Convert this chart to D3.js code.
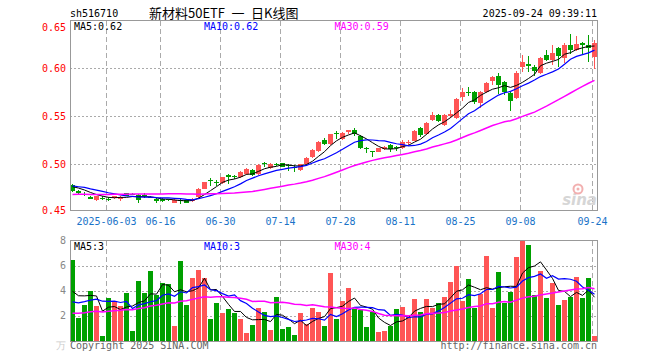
<!DOCTYPE html>
<html><head><meta charset="utf-8">
<script src="https://cdn.jsdelivr.net/npm/d3@7"></script>
<style>body{margin:0;background:#fff}svg{display:block}</style>
</head><body><svg id="c" width="660" height="360"></svg>
<script>
// ---- data ----
const holidays = ["2025-06-02"];
const firstDay = "2025-05-23", lastDay = "2025-09-24";
const open  = [0.4781,0.4725,0.4695,0.4663,0.4628,0.4650,0.4640,0.4645,0.4635,0.4698,0.4692,0.4684,0.4680,0.4660,0.4638,0.4638,0.4635,0.4600,0.4625,0.4628,0.4620,0.4663,0.4746,0.4836,0.4818,0.4802,0.4888,0.4880,0.4871,0.4899,0.4941,0.4900,0.5017,0.4958,0.5003,0.5010,0.4995,0.4975,0.4942,0.5003,0.5080,0.5138,0.5251,0.5207,0.5326,0.5260,0.5336,0.5357,0.5295,0.5166,0.5138,0.5132,0.5160,0.5201,0.5184,0.5166,0.5225,0.5246,0.5375,0.5316,0.5462,0.5513,0.5405,0.5502,0.5479,0.5705,0.5757,0.5757,0.5642,0.5757,0.5871,0.5920,0.5861,0.5746,0.5687,0.6017,0.6041,0.6017,0.5947,0.6142,0.6086,0.6211,0.6104,0.6246,0.6190,0.6260,0.6246,0.6114];
const high  = [0.4791,0.4735,0.4710,0.4668,0.4672,0.4665,0.4655,0.4675,0.4668,0.4705,0.4702,0.4690,0.4700,0.4668,0.4650,0.4645,0.4640,0.4635,0.4640,0.4635,0.4650,0.4752,0.4818,0.4860,0.4835,0.4870,0.4895,0.4890,0.4930,0.4962,0.4950,0.5003,0.5024,0.5010,0.5013,0.5017,0.5003,0.4993,0.5003,0.5076,0.5156,0.5240,0.5270,0.5320,0.5343,0.5336,0.5360,0.5378,0.5302,0.5180,0.5142,0.5170,0.5195,0.5208,0.5190,0.5250,0.5250,0.5355,0.5385,0.5440,0.5545,0.5520,0.5520,0.5566,0.5690,0.5792,0.5809,0.5760,0.5765,0.5855,0.5920,0.5947,0.5870,0.5760,0.5975,0.6138,0.6131,0.6030,0.6118,0.6190,0.6243,0.6220,0.6260,0.6357,0.6336,0.6274,0.6343,0.6295];
const low   = [0.4715,0.4690,0.4665,0.4635,0.4615,0.4625,0.4615,0.4640,0.4615,0.4665,0.4680,0.4600,0.4650,0.4645,0.4600,0.4605,0.4615,0.4595,0.4590,0.4595,0.4610,0.4650,0.4740,0.4772,0.4770,0.4795,0.4795,0.4850,0.4862,0.4890,0.4880,0.4890,0.4976,0.4951,0.4986,0.4969,0.4934,0.4924,0.4930,0.4996,0.5066,0.5128,0.5201,0.5205,0.5263,0.5254,0.5316,0.5290,0.5155,0.5115,0.5080,0.5125,0.5150,0.5128,0.5135,0.5160,0.5201,0.5240,0.5280,0.5305,0.5450,0.5440,0.5395,0.5479,0.5470,0.5660,0.5711,0.5630,0.5590,0.5745,0.5825,0.5732,0.5722,0.5559,0.5680,0.5965,0.5965,0.5920,0.5940,0.6075,0.6034,0.6017,0.6052,0.6149,0.6180,0.6149,0.6069,0.5989];
const close = [0.4725,0.4698,0.4688,0.4642,0.4670,0.4645,0.4632,0.4670,0.4660,0.4670,0.4688,0.4628,0.4670,0.4650,0.4620,0.4620,0.4625,0.4628,0.4620,0.4600,0.4642,0.4746,0.4815,0.4826,0.4808,0.4864,0.4864,0.4872,0.4923,0.4951,0.4888,0.4996,0.5010,0.5003,0.4996,0.4975,0.4980,0.4965,0.4998,0.5070,0.5147,0.5234,0.5207,0.5316,0.5318,0.5330,0.5357,0.5316,0.5166,0.5156,0.5132,0.5166,0.5184,0.5156,0.5180,0.5236,0.5236,0.5350,0.5305,0.5434,0.5513,0.5451,0.5513,0.5521,0.5680,0.5757,0.5750,0.5645,0.5757,0.5850,0.5909,0.5826,0.5757,0.5663,0.5954,0.6069,0.6025,0.5975,0.6111,0.6086,0.6163,0.6128,0.6246,0.6190,0.6253,0.6246,0.6211,0.6260];
const volume = [6.47,1.8,2.85,4.0,2.77,0.36,3.41,3.1,2.77,3.81,0.76,4.78,3.81,5.58,3.68,4.62,4.54,1.16,6.39,2.85,5.05,5.66,5.05,1.73,3.01,2.2,2.53,2.2,1.73,0.6,1.25,2.61,2.29,0.84,3.49,0.92,1.08,0.44,2.2,1.33,2.61,2.29,1.16,5.42,1.73,3.17,4.2,2.53,2.45,1.08,2.32,0.68,0.76,1.19,2.53,2.69,2.05,3.33,2.29,3.33,2.6,3.0,3.5,4.7,5.98,3.17,4.94,2.6,3.7,6.79,2.6,5.5,3.0,3.9,6.7,7.99,7.67,3.65,5.58,3.41,4.62,2.85,3.25,3.5,5.1,3.41,5.0,0.36];
// sessions before the visible window (estimated from the left end of the average lines)
const prevClose = [0.466,0.468,0.470,0.467,0.465,0.463,0.464,0.462,0.465,0.463,0.462,0.466,0.464,0.463,0.461,0.462,0.463,0.461,0.464,0.466,0.478,0.476,0.479,0.480,0.478,0.477,0.479,0.477,0.478];
const prevVolume = [1.5,2.0,1.2,1.8,2.2,1.4,1.9,1.6,2.1,1.3,1.7,2.0,1.5,1.8,1.6,1.9,1.4,2.2,1.7,1.8,2.5,1.9,2.8,2.0,2.0,3.6,2.9,3.8,3.0];
const tickDates = ["2025-06-03","2025-06-16","2025-06-30","2025-07-14","2025-07-28","2025-08-11","2025-08-25","2025-09-08","2025-09-24"];
const tickText  = ["2025-06-03","06-16","06-30","07-14","07-28","08-11","08-25","09-08","09-24"];
const priceTicks = [0.45,0.50,0.55,0.60,0.65];
const volTicks = [2,4,6,8];
const maPeriods = [5,10,30];
const maColors = ["#000000","#0000ff","#ff00ff"];
const code = "sh516710", titleParts = ["新材料50ETF","一","日K线图"], stamp = "2025-09-24 09:39:11";

// ---- build ----
const fmtDay = d3.utcFormat("%Y-%m-%d");
const dates = d3.utcDays(new Date(firstDay+"T00:00Z"), d3.utcDay.offset(new Date(lastDay+"T00:00Z"),1))
  .filter(d => d.getUTCDay()%6!==0 && !holidays.includes(fmtDay(d))).map(fmtDay);

function movingAvg(prev, vals, n){
  const all = prev.concat(vals), off = prev.length;
  return vals.map((v,i)=> d3.mean(all.slice(off+i-n+1, off+i+1)));
}

const svg = d3.select("#c");
const FONT = "'DejaVu Sans Mono', monospace";
const L=70, R=598;
const x = d3.scaleBand().domain(dates).range([L,R]);
const bw = x.bandwidth()-1;
const cx = d => x(d)+bw/2;
const y = d3.scaleLinear().domain([0.45,0.65]).range([212.3,20.3]);
const yv = d3.scaleLinear().domain([0,8]).range([340.5,240.9]);
const P = {top:20.5, bottom:210.5}, V = {top:240.5, bottom:341};
const UP="#ff5555", DN="#00a000", GRID="#aaaaaa";

// grids
function panelGrid(top,bottom,hvals,scale){
  const g = svg.append("g").attr("shape-rendering","crispEdges");
  g.selectAll("line.h").data(hvals).join("line")
    .attr("x1",L).attr("x2",R-1).attr("y1",d=>Math.round(scale(d))+0.5).attr("y2",d=>Math.round(scale(d))+0.5)
    .attr("stroke",GRID).attr("stroke-dasharray","2,2");
  g.selectAll("line.v").data(tickDates).join("line")
    .attr("x1",d=>x(d)+0.5).attr("x2",d=>x(d)+0.5).attr("y1",top).attr("y2",bottom)
    .attr("stroke",GRID).attr("stroke-dasharray","5,3");
}
panelGrid(P.top,P.bottom,[0.50,0.55,0.60],y);
panelGrid(V.top,V.bottom,[2,4,6],yv);

// watermark
const wm = svg.append("g");
wm.append("text").attr("x",597).attr("y",205).attr("text-anchor","end")
  .attr("font-family","'DejaVu Sans', sans-serif").attr("font-style","italic").attr("font-weight","bold")
  .attr("font-size",15).attr("fill","#d6d6d6").text("sina");
wm.append("circle").attr("cx",578).attr("cy",189).attr("r",4.5).attr("fill","none").attr("stroke","#f2b0b0").attr("stroke-width",2);
wm.append("circle").attr("cx",578).attr("cy",189).attr("r",1.5).attr("fill","#f2b0b0");

// candles
const cg = svg.append("g").attr("shape-rendering","crispEdges");
const idx = d3.range(dates.length);
cg.selectAll("line").data(idx).join("line")
  .attr("x1",i=>Math.floor(cx(dates[i]))+0.5).attr("x2",i=>Math.floor(cx(dates[i]))+0.5)
  .attr("y1",i=>y(high[i])).attr("y2",i=>y(low[i]))
  .attr("stroke",i=>close[i]>=open[i]?UP:DN);
cg.selectAll("rect").data(idx).join("rect")
  .attr("x",i=>x(dates[i])).attr("width",bw)
  .attr("y",i=>y(Math.max(open[i],close[i])))
  .attr("height",i=>Math.max(1,Math.abs(y(open[i])-y(close[i]))))
  .attr("fill",i=>close[i]>=open[i]?UP:DN);

// volume bars
svg.append("g").attr("shape-rendering","crispEdges").selectAll("rect").data(idx).join("rect")
  .attr("x",i=>x(dates[i])).attr("width",bw)
  .attr("y",i=>yv(volume[i])).attr("height",i=>yv(0)-yv(volume[i]))
  .attr("fill",i=>close[i]>=open[i]?UP:DN);

// moving averages
const priceMA = maPeriods.map(n=>movingAvg(prevClose,close,n));
const volMA = maPeriods.map(n=>movingAvg(prevVolume,volume,n));
const widths=[1,1.2,1.5];
priceMA.forEach((m,k)=>{
  svg.append("path").attr("fill","none").attr("stroke",maColors[k]).attr("stroke-width",widths[k])
    .attr("d",d3.line().x((v,i)=>cx(dates[i])).y(v=>y(v))(m));
});
volMA.forEach((m,k)=>{
  svg.append("path").attr("fill","none").attr("stroke",maColors[k]).attr("stroke-width",widths[k])
    .attr("d",d3.line().x((v,i)=>cx(dates[i])).y(v=>yv(v))(m));
});

// frames
const fr = svg.append("g").attr("shape-rendering","crispEdges").attr("fill","none").attr("stroke","#999");
fr.append("rect").attr("x",L+0.5).attr("y",P.top).attr("width",R-L-1).attr("height",P.bottom-P.top);
fr.append("rect").attr("x",L+0.5).attr("y",V.top).attr("width",R-L-1).attr("height",V.bottom-V.top);

// texts
const T = (xx,yy,txt,fill,anchor="start",size=10,fam=FONT)=>svg.append("text").attr("x",xx).attr("y",yy)
  .attr("fill",fill).attr("text-anchor",anchor).attr("font-family",fam).attr("font-size",size).text(txt);
T(70,17,code,"#000");
const CJK="'Noto Sans CJK SC', sans-serif";
T(149,18,titleParts[0],"#000","start",13,CJK);
T(238,18,titleParts[1],"#000","middle",13,CJK);
T(251,18,titleParts[2],"#000","start",13,CJK);
T(597,17,stamp,"#000","end");
priceTicks.forEach(v=>{
  const yy = Math.min(Math.max(y(v),27),210);
  T(66,yy+3.5,d3.format(".2f")(v),"#ff0000","end");
});
volTicks.forEach(v=>T(66,yv(v)+3.5,String(v),"#888","end"));
T(66,349,"万","#cccccc","end");
tickDates.forEach((d,k)=>T(x(d)+0.5,225,tickText[k],"#1a73c8","middle"));
const maX=[74,204,334.5];
maPeriods.forEach((n,k)=>{
  T(maX[k],30,`MA${n}:${d3.format(".2f")(priceMA[k][priceMA[k].length-1])}`,maColors[k]);
  T(maX[k],250,`MA${n}:${Math.floor(volMA[k][volMA[k].length-1])}`,maColors[k]);
});
T(70,349,"Copyright 2025 SINA.COM","#666");
T(597,349,"http://finance.sina.com.cn","#666","end");
</script></body></html>
